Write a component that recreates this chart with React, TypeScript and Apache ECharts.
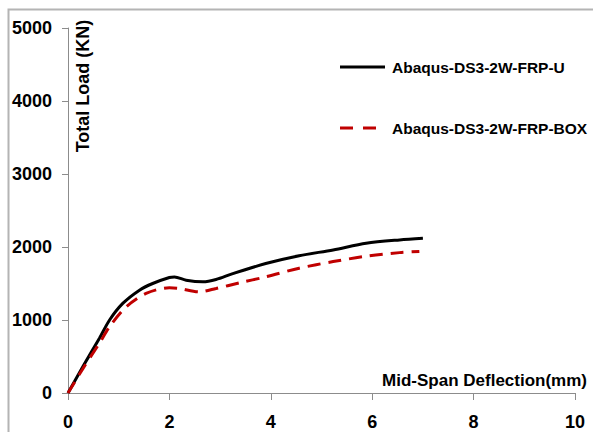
import React, { useEffect, useRef } from "react";
import * as echarts from "echarts";

// Mid-span deflection (mm) vs total load (kN)
const deflectionU = [0, 0.3, 0.62, 0.82, 1.08, 1.41, 1.67, 2.0, 2.1, 2.33, 2.66, 2.92, 3.25, 3.9, 4.56, 5.23, 5.88, 6.54, 7.0];
const loadU = [0, 370, 750, 1000, 1227, 1409, 1500, 1582, 1590, 1545, 1523, 1555, 1636, 1773, 1880, 1960, 2050, 2097, 2119];

const deflectionBox = [0, 0.3, 0.62, 0.82, 1.15, 1.54, 2.0, 2.2, 2.59, 2.92, 3.38, 3.9, 4.56, 5.23, 5.88, 6.54, 6.93];
const loadBox = [0, 340, 682, 909, 1182, 1364, 1441, 1432, 1386, 1432, 1509, 1591, 1710, 1800, 1873, 1923, 1940];

const seriesNames = ["Abaqus-DS3-2W-FRP-U", "Abaqus-DS3-2W-FRP-BOX"];
const xTitle = "Mid-Span Deflection(mm)";
const yTitle = "Total Load (KN)";

const FONT = "'Liberation Sans', Arial, sans-serif";
const AXIS_GREY = "#8c8c8c";
const RED = "#c00000";

export default function App() {
  const ref = useRef<HTMLDivElement>(null);

  useEffect(() => {
    if (!ref.current) return;
    const chart = echarts.init(ref.current, undefined, { renderer: "svg" });
    const pair = (xs: number[], ys: number[]) => xs.map((x, i) => [x, ys[i]]);
    const labelStyle = { color: "#000", fontFamily: FONT, fontWeight: "bold", fontSize: 18 };
    const legendFont = `bold 15.5px ${FONT}`;

    chart.setOption({
      animation: false,
      backgroundColor: "#ffffff",
      grid: { left: 68, right: 18, top: 28, bottom: 39, containLabel: false },
      xAxis: {
        type: "value",
        min: 0,
        max: 10,
        interval: 2,
        axisLine: { show: true, lineStyle: { color: AXIS_GREY, width: 1 } },
        axisTick: { show: true, inside: false, length: 7, lineStyle: { color: AXIS_GREY } },
        splitLine: { show: false },
        axisLabel: { margin: 20, formatter: (v: number) => String(v), ...labelStyle },
      },
      yAxis: {
        type: "value",
        min: 0,
        max: 5000,
        interval: 1000,
        axisLine: { show: true, lineStyle: { color: AXIS_GREY, width: 1 } },
        axisTick: { show: true, inside: false, length: 6, lineStyle: { color: AXIS_GREY } },
        splitLine: { show: false },
        axisLabel: { margin: 16, formatter: (v: number) => String(v), ...labelStyle },
      },
      series: [
        {
          name: seriesNames[0],
          type: "line",
          data: pair(deflectionU, loadU),
          smooth: 0.3,
          showSymbol: false,
          symbol: "none",
          lineStyle: { color: "#000", width: 3 },
          itemStyle: { color: "#000" },
          z: 3,
        },
        {
          name: seriesNames[1],
          type: "line",
          data: pair(deflectionBox, loadBox),
          smooth: 0.3,
          showSymbol: false,
          symbol: "none",
          lineStyle: { color: RED, width: 3, type: [13, 8] },
          itemStyle: { color: RED },
          z: 4,
        },
      ],
      graphic: [
        {
          type: "rect",
          shape: { x: 8.5, y: 9.5, width: 700, height: 600 },
          style: { fill: "none", stroke: "#b4b4b4", lineWidth: 2 },
          silent: true,
          z: -1,
        },
        // y-axis title, inside the plot area
        {
          type: "text",
          x: 83,
          y: 86,
          rotation: Math.PI / 2,
          style: {
            text: yTitle,
            fill: "#000",
            font: `bold 18px ${FONT}`,
            textAlign: "center",
            textVerticalAlign: "middle",
          },
        },
        // x-axis title, right-aligned above the axis
        {
          type: "text",
          x: 587,
          y: 380,
          style: {
            text: xTitle,
            fill: "#000",
            font: `bold 17px ${FONT}`,
            textAlign: "right",
            textVerticalAlign: "middle",
          },
        },
        // legend
        {
          type: "line",
          shape: { x1: 340, y1: 67, x2: 385, y2: 67 },
          style: { stroke: "#000", lineWidth: 3 },
        },
        {
          type: "text",
          x: 392,
          y: 67,
          style: { text: seriesNames[0], fill: "#000", font: legendFont, textVerticalAlign: "middle" },
        },
        {
          type: "line",
          shape: { x1: 340, y1: 128, x2: 377, y2: 128 },
          style: { stroke: RED, lineWidth: 3, lineDash: [13, 10] },
        },
        {
          type: "text",
          x: 392,
          y: 128,
          style: { text: seriesNames[1], fill: "#000", font: legendFont, textVerticalAlign: "middle" },
        },
      ],
    });

    return () => chart.dispose();
  }, []);

  return (
    <div
      ref={ref}
      style={{ position: "fixed", left: 0, top: 0, width: 593, height: 432 }}
    />
  );
}
